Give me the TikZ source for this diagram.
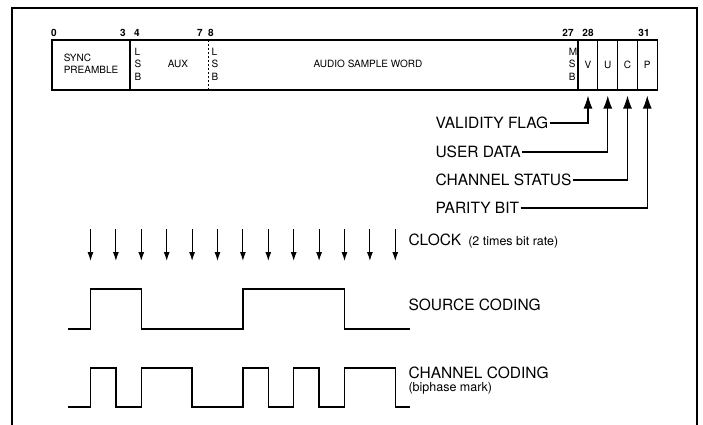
\documentclass[tikz,border=0pt]{standalone}
\usepackage{fontspec}
\setmainfont{TeX Gyre Heros}
\usetikzlibrary{arrows.meta,positioning}

\begin{document}
\begin{tikzpicture}[x=1pt, y=-1pt, line width=1.1pt,
        cell/.style={draw, minimum width=19.75pt, minimum height=50pt, inner sep=0pt, font=\fontsize{10}{12}\selectfont},
        bitno/.style={font=\fontsize{10}{12}\selectfont\bfseries},
        boxtxt/.style={font=\fontsize{10}{12.5}\selectfont, align=left},
        biglbl/.style={font=\fontsize{15.5}{18}\selectfont, inner sep=1pt, anchor=west},
        smalllbl/.style={font=\fontsize{12.5}{14}\selectfont, inner sep=1pt},
        flagarrow/.style={-{Latex[length=13pt,width=9pt]}, shorten >=5pt},
        clk/.style={-{Latex[length=9pt,width=6pt]}},
        wave/.style={line width=1.3pt}]
    \useasboundingbox (0,0) rectangle (703,425);

    % Marco exterior (abierto por abajo)
    \draw (12,425) |- (697,8) -- (697,425);

    % Palabra de 32 bits
    \draw (52,40) rectangle (578,90);
    \draw (130,40) -- (130,90);
    \draw[dashed, line width=0.7pt, dash pattern=on 2.5pt off 1.5pt] (208,40) -- (208,90);
    \foreach \b [count=\i] in {V,U,C,P} {
        \node[cell] (bit\b) at ({568.25+\i*19.75},65) {\b};
    }

    % Numeros de bit
    \foreach \n/\x in {0/54, 3/123, 4/137, 7/200, 8/211, 27/568, 28/588, 31/644} {
        \node[bitno] at (\x,33) {\n};
    }

    % Textos dentro de la palabra
    \node[boxtxt] (sync) at (91,64) {SYNC\\PREAMBLE};
    \node[boxtxt] (lsbaux) at (138,64) {L\\S\\B};
    \node[boxtxt] (aux) at (178,64) {AUX};
    \node[boxtxt] (lsbaudio) at (215,64) {L\\S\\B};
    \node[boxtxt] (audio) at (368,64) {AUDIO SAMPLE WORD};
    \node[boxtxt] (msb) at (573,64) {M\\S\\B};

    % Etiquetas de los bits V, U, C, P
    \node[biglbl] (valid) at (434,123) {VALIDITY FLAG};
    \node[biglbl] (user) at (434,152) {USER DATA};
    \node[biglbl] (chstat) at (434,180) {CHANNEL STATUS};
    \node[biglbl] (parity) at (434,208) {PARITY BIT};
    \draw[flagarrow] (valid.east) -| (bitV.south);
    \draw[flagarrow] (user.east) -| (bitU.south);
    \draw[flagarrow] (chstat.east) -| (bitC.south);
    \draw[flagarrow] (parity.east) -| (bitP.south);

    % Reloj
    \foreach \k in {0,...,12} {
        \draw[clk] ({90.5+25.4*\k},229) -- ({90.5+25.4*\k},261);
    }
    \node[biglbl] (clock) at (407,240) {CLOCK};
    \node[smalllbl, anchor=base west] (rate) at ([xshift=4pt]clock.base east) {(2 times bit rate)};

    % Codificacion de fuente
    \draw[wave] (68,329) -| ({90.5},289) -| ({90.5+25.4*2},329)
        -| ({90.5+25.4*6},289) -| ({90.5+25.4*10},329) -- (410,329);
    \node[biglbl] (source) at (407,305) {SOURCE CODING};

    % Codificacion de canal (biphase mark)
    \draw[wave] (68,407) -| ({90.5},368) -| ({90.5+25.4},407)
        -| ({90.5+25.4*2},368) -| ({90.5+25.4*4},407)
        -| ({90.5+25.4*6},368) -| ({90.5+25.4*7},407)
        -| ({90.5+25.4*8},368) -| ({90.5+25.4*9},407)
        -| ({90.5+25.4*10},368) -| ({90.5+25.4*12},407) -- (410,407);
    \node[biglbl] (chcod) at (407,373) {CHANNEL CODING};
    \node[smalllbl, anchor=north west] (biph) at (chcod.south west) {(biphase mark)};
\end{tikzpicture}
\end{document}
